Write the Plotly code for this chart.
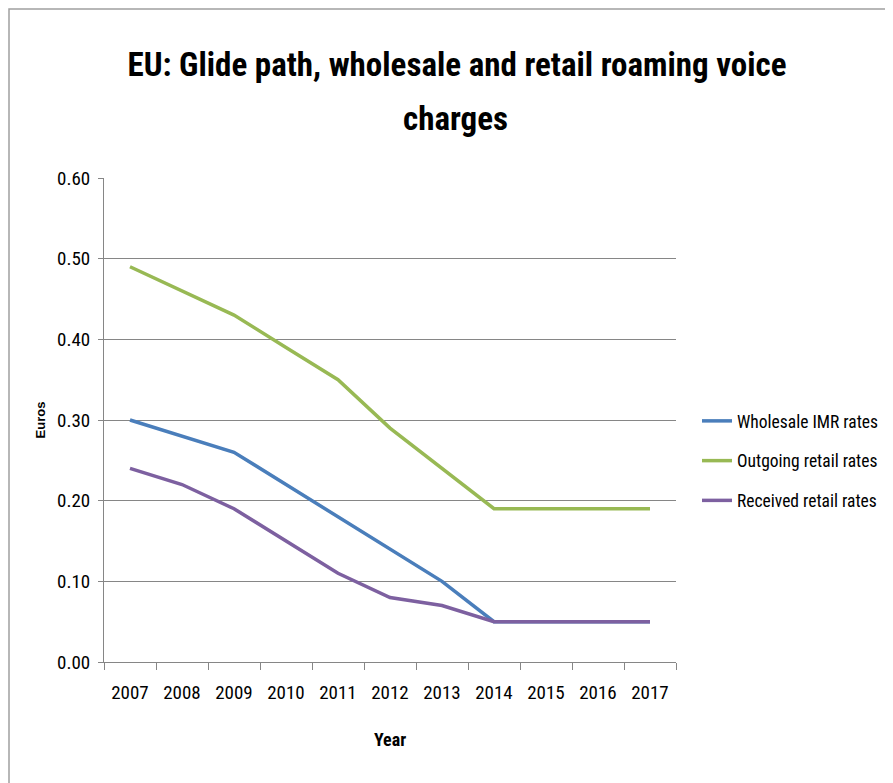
import plotly.graph_objects as go

years = ["2007", "2008", "2009", "2010", "2011", "2012", "2013", "2014", "2015", "2016", "2017"]
wholesale = [0.30, 0.28, 0.26, 0.22, 0.18, 0.14, 0.10, 0.05, 0.05, 0.05, 0.05]
outgoing = [0.49, 0.46, 0.43, 0.39, 0.35, 0.29, 0.24, 0.19, 0.19, 0.19, 0.19]
received = [0.24, 0.22, 0.19, 0.15, 0.11, 0.08, 0.07, 0.05, 0.05, 0.05, 0.05]
y_ticks = [0.0, 0.1, 0.2, 0.3, 0.4, 0.5, 0.6]
title_line1 = "EU: Glide path, wholesale and retail roaming voice"
title_line2 = "charges"

NARROW = "Liberation Sans Narrow, Arial Narrow, Roboto Condensed, sans-serif"

# page body has an 8px margin: figure is placed at (8, 8)
W, H = 893, 775
ML, MR, MT, MB = 96, 225, 170, 121
PW, PH = W - ML - MR, H - MT - MB


def px_to_paper_x(sx):
    return (sx - 8 - ML) / PW


def px_to_paper_y(sy):
    return (H - MB - (sy - 8)) / PH


fig = go.Figure()
series = [
    ("Wholesale IMR rates", wholesale, "#4A7EBB"),
    ("Outgoing retail rates", outgoing, "#98B954"),
    ("Received retail rates", received, "#7D60A0"),
]
for i, (name, vals, col) in enumerate(series):
    fig.add_trace(go.Scatter(
        x=years, y=vals, name=name, mode="lines",
        line=dict(color=col, width=3.5),
        legendgroup=f"g{i}",
    ))

fig.update_layout(
    width=W, height=H,
    paper_bgcolor="white", plot_bgcolor="white",
    margin=dict(l=ML, r=MR, t=MT, b=MB),
    title=dict(
        text=title_line1,
        x=(457 - 8) / W, xanchor="center",
        y=1 - (64 - 8) / H, yanchor="middle",
        font=dict(family=NARROW, size=33, color="black", weight="bold"),
    ),
    showlegend=True,
    legend=dict(
        x=px_to_paper_x(697), xanchor="left", y=px_to_paper_y(461), yanchor="middle",
        font=dict(family=NARROW, size=17.5, color="black"),
        tracegroupgap=14, bgcolor="rgba(0,0,0,0)",
    ),
    xaxis=dict(
        type="category", showgrid=False, range=[-0.5, len(years) - 0.5],
        showline=True, linecolor="#868686", linewidth=1,
        ticks="outside", tickson="boundaries", ticklen=7, tickcolor="#868686",
        tickfont=dict(family=NARROW, size=19, color="black"),
        ticklabelstandoff=13,
        title=dict(text="Year", font=dict(family=NARROW, size=18, color="black", weight="bold"), standoff=30),
    ),
    yaxis=dict(
        range=[0, 0.6], tickvals=y_ticks, tickformat=".2f",
        showgrid=True, gridcolor="#868686", gridwidth=1,
        showline=True, linecolor="#868686", linewidth=1,
        ticks="outside", ticklen=5, tickcolor="#868686",
        tickfont=dict(family=NARROW, size=19, color="black"),
        ticklabelstandoff=4,
        zeroline=False,
        title=dict(text="Euros", font=dict(family="Arial, Liberation Sans, sans-serif", size=13, color="black", weight="bold"), standoff=8),
    ),
)

# second title line
fig.add_annotation(
    text=title_line2, xref="paper", yref="paper",
    x=px_to_paper_x(455), y=px_to_paper_y(119), xanchor="center", yanchor="middle",
    showarrow=False, font=dict(family=NARROW, size=33, color="black", weight="bold"),
)

# outer frame (left and top edges)
fig.add_shape(type="rect", xref="paper", yref="paper",
              x0=px_to_paper_x(9), x1=1.5, y0=-0.4, y1=px_to_paper_y(9),
              line=dict(color="#a0a0a0", width=1.5), fillcolor="rgba(0,0,0,0)", layer="below")

fig.write_html("out.html")
